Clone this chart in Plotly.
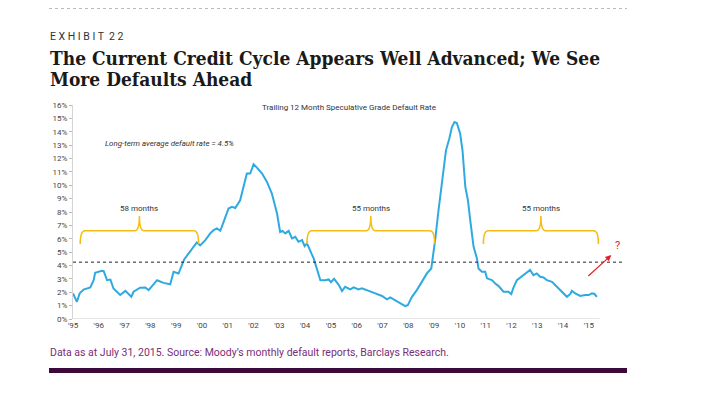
import plotly.graph_objects as go

# ---------------- data ----------------
years = [1995.00, 1995.15, 1995.26, 1995.41, 1995.67, 1995.80, 1995.86, 1996.12, 1996.19, 1996.32,
         1996.45, 1996.57, 1996.83, 1997.03, 1997.26, 1997.35, 1997.60, 1997.80, 1997.93, 1998.26,
         1998.51, 1998.77, 1998.90, 1999.09, 1999.31, 1999.61, 1999.80, 1999.93, 2000.13, 2000.32,
         2000.45, 2000.58, 2000.71, 2000.84, 2001.03, 2001.16, 2001.29, 2001.48, 2001.74, 2001.87,
         2002.00, 2002.13, 2002.33, 2002.52, 2002.71, 2002.91, 2003.03, 2003.12, 2003.23, 2003.36,
         2003.49, 2003.62, 2003.74, 2003.88, 2003.98, 2004.07, 2004.20, 2004.33, 2004.39, 2004.50,
         2004.59, 2004.78, 2004.91, 2005.00, 2005.12, 2005.30, 2005.43, 2005.55, 2005.75, 2005.88,
         2006.07, 2006.20, 2006.40, 2006.52, 2006.72, 2006.98, 2007.17, 2007.30, 2007.49, 2007.69,
         2007.88, 2007.98, 2008.14, 2008.33, 2008.53, 2008.72, 2008.89, 2008.94, 2009.04, 2009.17,
         2009.30, 2009.46, 2009.59, 2009.69, 2009.79, 2009.88, 2010.01, 2010.10, 2010.21, 2010.31,
         2010.40, 2010.53, 2010.66, 2010.72, 2010.85, 2010.98, 2011.05, 2011.24, 2011.37, 2011.50,
         2011.69, 2011.88, 2011.99, 2012.08, 2012.21, 2012.40, 2012.60, 2012.72, 2012.85, 2012.98,
         2013.11, 2013.24, 2013.37, 2013.57, 2013.76, 2013.95, 2014.15, 2014.28, 2014.34, 2014.47,
         2014.66, 2014.86, 2014.99, 2015.12, 2015.22, 2015.31]
default_rate = [1.92, 1.29, 1.92, 2.20, 2.36, 2.90, 3.45, 3.60, 3.58, 2.90,
                2.95, 2.28, 1.80, 2.10, 1.66, 2.04, 2.34, 2.36, 2.16, 2.90,
                2.70, 2.60, 3.53, 3.40, 4.45, 5.27, 5.72, 5.50, 5.90, 6.40,
                6.64, 6.77, 6.60, 7.26, 8.26, 8.38, 8.30, 8.88, 10.87, 10.87,
                11.57, 11.32, 10.87, 10.25, 9.38, 7.89, 6.51, 6.59, 6.40, 6.59,
                6.02, 6.14, 5.77, 5.90, 5.45, 5.65, 5.15, 4.53, 4.16, 3.53,
                2.90, 2.90, 2.96, 2.75, 3.00, 2.55, 2.09, 2.41, 2.21, 2.36,
                2.21, 2.29, 2.16, 2.04, 1.92, 1.72, 1.47, 1.62, 1.42, 1.22,
                0.97, 1.04, 1.66, 2.16, 2.78, 3.41, 3.78, 4.65, 5.90, 8.13,
                10.13, 12.61, 13.49, 14.35, 14.72, 14.65, 13.86, 12.61, 9.87, 8.88,
                7.39, 5.40, 4.53, 3.78, 3.53, 3.53, 3.04, 2.91, 2.66, 2.46,
                2.04, 2.04, 1.87, 2.37, 2.91, 3.21, 3.46, 3.66, 3.28, 3.41,
                3.16, 3.11, 2.91, 2.78, 2.41, 2.04, 1.66, 1.87, 2.11, 1.92,
                1.72, 1.79, 1.79, 1.92, 1.87, 1.66]

tick_years = list(range(1995, 2016))
tick_labels = ["'%02d" % (y % 100) for y in tick_years]
y_ticks = list(range(0, 17))
y_tick_labels = ["%d%%" % v for v in y_ticks]

average_line = 4.25
brace_starts = [1995.28, 2004.07, 2010.91]
brace_ends = [1999.87, 2009.02, 2015.37]
brace_labels = ["58 months", "55 months", "55 months"]
data_end = 2015.42

# ---------------- layout helpers ----------------
OFF = 8  # page body margin
W, H = 720 - OFF, 393 - OFF
ML, MR, MT, MB = 65, 95, 97, 74
PW, PH = W - ML - MR, H - MT - MB
XR = [1995, 2016.4]
YR = [0, 16]


def px(xp):
    return (xp - OFF - ML) / PW


def py(yp):
    return (H - MB - (yp - OFF)) / PH


LINE_BLUE = "#2eaae1"
GOLD = "#f6bd16"
TXT = "#444"

fig = go.Figure()
fig.add_trace(go.Scatter(x=years, y=default_rate, mode="lines",
                         line=dict(color=LINE_BLUE, width=2), hoverinfo="skip",
                         showlegend=False))

shapes = []
annotations = []

# average line (dotted)
shapes.append(dict(type="line", xref="paper", yref="y", x0=0, x1=1,
                   y0=average_line, y1=average_line,
                   line=dict(color="#222", width=1, dash="dot")))
# x axis baseline
shapes.append(dict(type="line", xref="x", yref="y", x0=XR[0], x1=data_end,
                   y0=0, y1=0, line=dict(color="#cfcfcf", width=1)))

# braces
b_base, b_top, b_tip = 5.6, 6.6, 7.7
for s, e, lab in zip(brace_starts, brace_ends, brace_labels):
    c = (s + e) / 2
    dx = 0.18
    path = (f"M {s},{b_base} Q {s},{b_top} {s+dx},{b_top} "
            f"L {c-dx},{b_top} Q {c},{b_top} {c},{b_tip} "
            f"Q {c},{b_top} {c+dx},{b_top} "
            f"L {e-dx},{b_top} Q {e},{b_top} {e},{b_base}")
    shapes.append(dict(type="path", xref="x", yref="y", path=path,
                       line=dict(color=GOLD, width=1.6)))
    annotations.append(dict(x=c, y=8.25, xref="x", yref="y", text=lab,
                            xanchor="center", yanchor="middle",
                            showarrow=False, font=dict(size=8, color="#333",
                                                       family="Roboto")))

# red arrow + question mark
annotations.append(dict(x=2015.87, y=4.78, ax=2014.92, ay=3.11, xref="x", yref="y",
                        axref="x", ayref="y", showarrow=True, arrowhead=2,
                        arrowsize=1, arrowwidth=1.2, arrowcolor="#e0202a", text=""))
annotations.append(dict(x=2016.1, y=5.5, xref="x", yref="y", text="?",
                        xanchor="center", yanchor="middle",
                        showarrow=False, font=dict(size=11, color="#e0202a",
                                                   family="Roboto")))


def text_at(xp, yp, text, size, color, family, anchor="left"):
    annotations.append(dict(x=px(xp), y=py(yp), xref="paper", yref="paper",
                            xanchor=anchor, yanchor="middle", text=text,
                            showarrow=False,
                            font=dict(size=size, color=color, family=family)))


# chart texts
text_at(349, 108, "Trailing 12 Month Speculative Grade Default Rate", 8, "#333",
        "Roboto", "center")
text_at(103, 143, "<i>Long-term average default rate = 4.5%</i>", 7.9, "#333", "Roboto")

# header
shapes.append(dict(type="line", xref="paper", yref="paper", x0=px(49), x1=px(627),
                   y0=py(8), y1=py(8), line=dict(color="#777", width=1, dash="dot")))
text_at(48, 37, "E X H I B I T  2 2", 10.5, "#333", "Roboto")
text_at(48, 58, "<b>The Current Credit Cycle Appears Well Advanced; We See</b>", 19,
        "#1a1a1a", "DejaVu Serif Condensed")
text_at(48, 79, "<b>More Defaults Ahead</b>", 19, "#1a1a1a", "DejaVu Serif Condensed")

# footer
text_at(48, 352, "Data as at July 31, 2015. Source: Moody\u2019s monthly default reports, Barclays Research.",
        10.5, "#7a2d78", "Roboto")
shapes.append(dict(type="rect", xref="paper", yref="paper", x0=px(49), x1=px(627),
                   y0=py(373), y1=py(368), line=dict(width=0), fillcolor="#3c0a3a"))

fig.update_layout(
    width=W, height=H, margin=dict(l=ML, r=MR, t=MT, b=MB),
    paper_bgcolor="white", plot_bgcolor="white",
    shapes=shapes, annotations=annotations,
    xaxis=dict(range=XR, tickvals=tick_years, ticktext=tick_labels, showgrid=False,
               zeroline=False, showline=False, ticks="", ticklen=3,
               tickfont=dict(size=8, color=TXT, family="Roboto")),
    yaxis=dict(range=YR, tickvals=y_ticks, ticktext=y_tick_labels, showgrid=False,
               zeroline=False, showline=True, linecolor="#d5d5d5", linewidth=1,
               ticks="outside", ticklen=3, tickcolor="#bbb",
               tickfont=dict(size=8, color=TXT, family="Roboto")),
)

fig.write_html("out.html")
